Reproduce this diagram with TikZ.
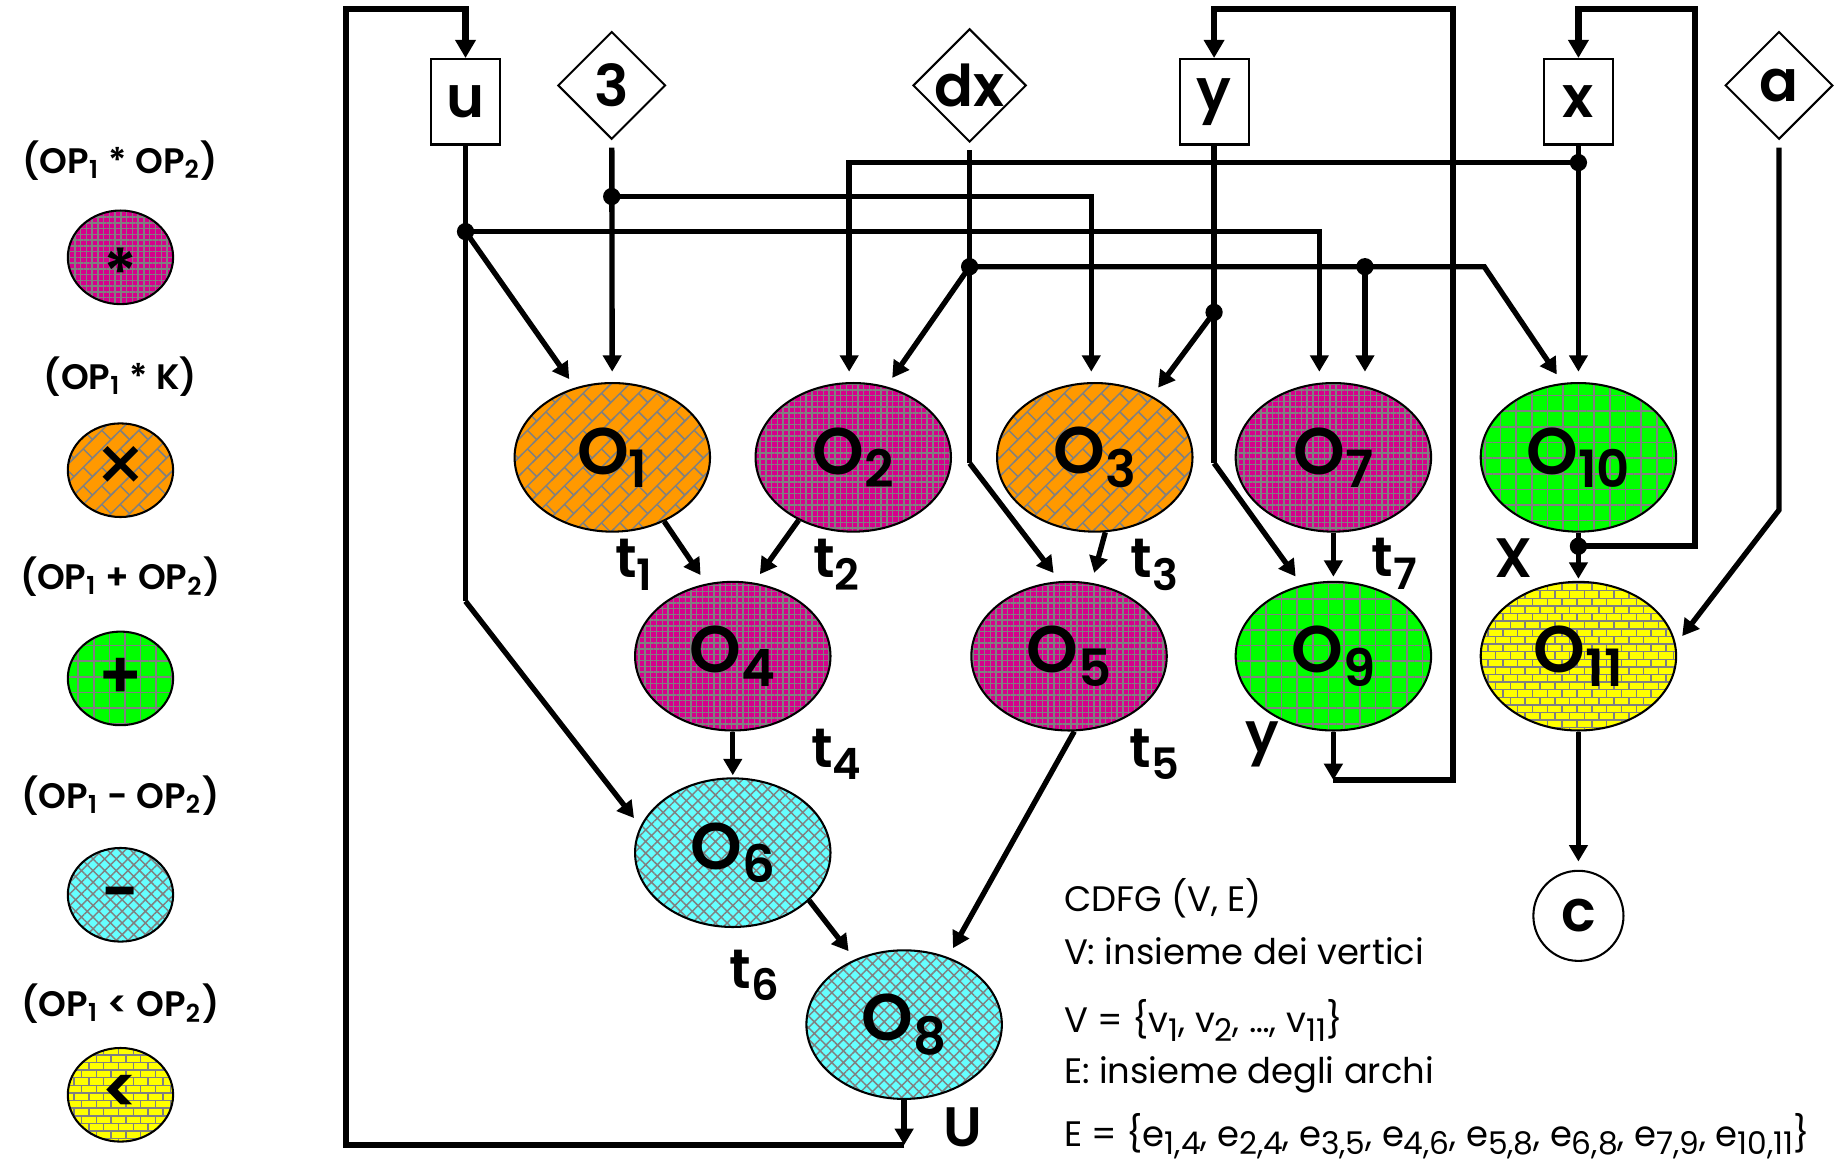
\documentclass[tikz,border=0pt]{standalone}
\usepackage{fontspec}
\setmainfont{Poppins}[BoldFont={Poppins SemiBold}]
\usetikzlibrary{shapes.geometric, positioning, calc, arrows.meta, patterns, patterns.meta}

\definecolor{rosso}{RGB}{214,0,140}
\definecolor{arancio}{RGB}{255,153,0}
\definecolor{verde}{RGB}{0,255,0}
\definecolor{ciano}{RGB}{102,255,255}
\definecolor{giallo}{RGB}{255,255,0}
\definecolor{trama}{RGB}{128,128,128}

%trama a mattoni orizzontali
\pgfdeclarepatternformonly{mattoni}{\pgfqpoint{-1pt}{-1pt}}{\pgfqpoint{4.6pt}{4.7pt}}{\pgfqpoint{3.6pt}{3.7pt}}{%
  \pgfsetlinewidth{0.35pt}%
  \pgfpathmoveto{\pgfqpoint{-1pt}{0pt}}\pgfpathlineto{\pgfqpoint{4.6pt}{0pt}}%
  \pgfpathmoveto{\pgfqpoint{-1pt}{1.85pt}}\pgfpathlineto{\pgfqpoint{4.6pt}{1.85pt}}%
  \pgfpathmoveto{\pgfqpoint{0pt}{0pt}}\pgfpathlineto{\pgfqpoint{0pt}{1.85pt}}%
  \pgfpathmoveto{\pgfqpoint{1.8pt}{1.85pt}}\pgfpathlineto{\pgfqpoint{1.8pt}{3.7pt}}%
  \pgfusepath{stroke}}
%trama a mattoni diagonali
\pgfdeclarepatternformonly{mattonidiag}{\pgfqpoint{-1pt}{-1pt}}{\pgfqpoint{5.5pt}{5.5pt}}{\pgfqpoint{4.5pt}{4.5pt}}{%
  \pgfsetlinewidth{0.35pt}%
  \pgfpathmoveto{\pgfqpoint{-1pt}{-1pt}}\pgfpathlineto{\pgfqpoint{5.5pt}{5.5pt}}%
  \pgfpathmoveto{\pgfqpoint{2.25pt}{2.25pt}}\pgfpathlineto{\pgfqpoint{4.5pt}{0pt}}%
  \pgfusepath{stroke}}

\newcommand{\opnum}[1]{O\raisebox{-3.2pt}{\fontsize{12.5}{12.5}\selectfont #1}}
\newcommand{\tnum}[1]{t\raisebox{-3pt}{\fontsize{10.5}{10.5}\selectfont #1}}
\newcommand{\pedice}[1]{\raisebox{-2pt}{\fontsize{7.6}{7.6}\selectfont #1}}

\tikzset{
  op/.style={ellipse, draw, line width=0.5pt, minimum width=1.67cm, minimum height=1.27cm,
    inner sep=0pt, pattern color=trama, font=\bfseries\fontsize{16}{16}\selectfont},
  legop/.style={minimum width=0.9cm, minimum height=0.8cm},
  opmul/.style={preaction={fill=rosso}, pattern={Hatch[angle=0,distance=1.4pt,line width=0.35pt]}},
  opmulk/.style={preaction={fill=arancio}, pattern=mattonidiag},
  opadd/.style={preaction={fill=verde}, pattern={Hatch[angle=0,distance=3.8pt,line width=0.4pt]}},
  opsub/.style={preaction={fill=ciano}, pattern={Hatch[angle=45,distance=2pt,line width=0.35pt]}},
  oplt/.style={preaction={fill=giallo}, pattern=mattoni},
  reg/.style={rectangle, draw, line width=0.5pt, minimum width=0.59cm, minimum height=0.73cm,
    inner sep=0pt, font=\bfseries\fontsize{14}{14}\selectfont},
  cost/.style={diamond, draw, line width=0.5pt, minimum width=0.92cm, minimum height=0.92cm,
    inner sep=0pt, font=\bfseries\fontsize{14}{14}\selectfont},
  uscita/.style={circle, draw, line width=0.5pt, minimum size=0.77cm, inner sep=0pt,
    font=\bfseries\fontsize{14}{14}\selectfont},
  filo/.style={line width=1.3pt},
  freccia/.style={line width=1.3pt, -{Triangle[length=4pt,width=4.4pt]}, shorten >=2.5pt},
  anello/.style={line width=1.5pt, -{Triangle[length=4.4pt,width=4.8pt]}},
  etic/.style={inner sep=0pt, font=\bfseries\fontsize{13.5}{13.5}\selectfont},
  leg/.style={inner sep=0pt, font=\bfseries\fontsize{8.6}{9}\selectfont},
  simbolo/.style={inner sep=0pt, font=\bfseries\fontsize{16}{16}\selectfont},
  testo/.style={anchor=base west, inner sep=0pt, font=\fontsize{8.6}{10}\selectfont}
}

\begin{document}
\begin{tikzpicture}[x=0.01cm, y=-0.01cm]
\useasboundingbox (0,0) rectangle (1568,993);

%legenda
\node[leg] (tmul) at (103,137) {(OP\textsubscript{1} * OP\textsubscript{2})};
\node[op, legop, opmul] (lmul) at (103,220) {};
\node[simbolo, yshift=-3.5pt] (smul) at (lmul) {*};
\node[leg] (tmulk) at (103,322) {(OP\textsubscript{1} * K)};
\node[op, legop, opmulk] (lmulk) at (103,402) {};
\node[simbolo, font=\fontsize{20}{20}\selectfont] (smulk) at (lmulk) {×};
\node[leg] (tadd) at (103,493) {(OP\textsubscript{1} + OP\textsubscript{2})};
\node[op, legop, opadd] (ladd) at (103,580) {};
\node[simbolo] (sadd) at (ladd) {+};
\node[leg] (tsub) at (103,680) {(OP\textsubscript{1} - OP\textsubscript{2})};
\node[op, legop, opsub] (lsub) at (103,765) {};
\node[simbolo, yshift=-1.5pt] (ssub) at (lsub) {-};
\node[leg] (tlt) at (103,858) {(OP\textsubscript{1} < OP\textsubscript{2})};
\node[op, legop, oplt] (llt) at (103,936) {};
\node[simbolo] (slt) at (llt) {<};

%nodi di ingresso
\node[reg] (u) at (398,87) {u};
\node[cost] (tre) at (523,73) {3};
\node[cost] (dx) at (829,73) {dx};
\node[reg] (y) at (1038,87) {y};
\node[reg] (x) at (1349.5,87) {x};
\node[cost] (a) at (1521,73) {a};

%operazioni
\node[op, opmulk] (o1) at (523.5,391) {\opnum{1}};
\node[op, opmul] (o2) at (729.5,391) {\opnum{2}};
\node[op, opmulk] (o3) at (936,391) {\opnum{3}};
\node[op, opmul] (o7) at (1140,391) {\opnum{7}};
\node[op, opadd] (o10) at (1349.5,391) {\opnum{10}};
\node[op, opmul] (o4) at (626.5,561) {\opnum{4}};
\node[op, opmul] (o5) at (914,561) {\opnum{5}};
\node[op, opadd] (o9) at (1140,561) {\opnum{9}};
\node[op, oplt] (o11) at (1349.5,561) {\opnum{11}};
\node[op, opsub] (o6) at (626.5,729) {\opnum{6}};
\node[op, opsub] (o8) at (773,876) {\opnum{8}};
\node[uscita] (c) at (1349.5,783) {c};

%punti di diramazione e gomiti
\coordinate (ju) at (398,198);
\coordinate (j3) at (523,168);
\coordinate (jx) at (1349.5,139);
\coordinate (jdx) at (829,228);
\coordinate (jdx2) at (1167,228);
\coordinate (jy) at (1038,267);
\coordinate (jo10) at (1349.5,467);
\coordinate (gu) at (398,514);
\coordinate (gu7) at (1128,198);
\coordinate (g3) at (933,168);
\coordinate (gx) at (726,139);
\coordinate (gdx) at (829,396);
\coordinate (gdx2) at (1269,228);
\coordinate (gy) at (1038,396);
\coordinate (ga) at (1521,436);
\coordinate (fu) at (773,979);
\coordinate (fu2) at (296,8);
\coordinate (fy) at (1140,667);
\coordinate (fy2) at (1242,8);
\coordinate (fx2) at (1449,8);

%archi da u
\draw[filo] (u) -- (ju) -- (gu);
\draw[freccia] (gu) -- (o6.164);
\draw[freccia] (ju) -- (o1.118);
\draw[freccia] (ju) -- (gu7) -- (gu7 |- o7.north);
%archi da 3
\draw[freccia, shorten <=1.8pt] (tre) -- (o1);
\draw[freccia] (j3) -- (g3) -- (g3 |- o3.north);
%archi da x
\draw[freccia] (x) -- (o10);
\draw[freccia] (jx) -- (gx) -- (gx |- o2.north);
%archi da dx
\draw[filo, shorten <=1.8pt] (dx) -- (gdx);
\draw[freccia] (gdx) -- (o5.97);
\draw[freccia] (jdx) -- (o2.65);
\draw[freccia] (jdx) -- (gdx2) -- (o10.102);
\draw[freccia] (jdx2) -- (jdx2 |- o7.north);
%archi da y
\draw[filo] (y) -- (gy);
\draw[freccia] (jy) -- (o3.47);
\draw[freccia] (gy) -- (o9.114);
%arco da a
\draw[freccia, shorten <=1.8pt] (a) -- (ga) -- (o11.7);

%archi tra operazioni
\draw[freccia] (o1.-51) -- (o4.110);
\draw[freccia] (o2.-131) -- (o4.74);
\draw[freccia] (o3.-82) -- (o5.73);
\draw[freccia, shorten >=0.5pt] (o4) -- (o6);
\draw[freccia] (o5.-86) -- (o8.57);
\draw[freccia] (o6.-32) -- (o8.127);
\draw[freccia, shorten >=1pt] (o7) -- (o9);
\draw[filo] (o10) -- (jo10);
\draw[freccia, shorten >=0.5pt] (jo10) -- (o11);
\draw[freccia, shorten >=2pt] (o11) -- (c);

%retroazioni
\draw[freccia, shorten >=0pt] (o8) -- (fu);
\draw[anello] (fu) -| (fu2) -| (u.north);
\draw[freccia, shorten >=0pt] (o9) -- (fy);
\draw[anello] (fy) -| (fy2) -| (y.north);
\draw[anello] (jo10) -| (fx2) -| (x.north);

%punti
\foreach \p in {ju,j3,jx,jdx,jdx2,jy,jo10}
  \fill (\p) circle (2.1pt);

%etichette
\node[etic] (t1) at (542,483) {\tnum{1}};
\node[etic] (t2) at (715,483) {\tnum{2}};
\node[etic] (t3) at (987,483) {\tnum{3}};
\node[etic] (t4) at (715,645) {\tnum{4}};
\node[etic] (t5) at (987,645) {\tnum{5}};
\node[etic] (t6) at (645,834) {\tnum{6}};
\node[etic] (t7) at (1192,482) {\tnum{7}};
\node[etic] (ly) at (1079,636) {y};
\node[etic] (lx) at (1294,477) {X};
\node[etic] (lu) at (823,964) {U};

%descrizione del grafo
\node[testo] (d1) at (909,779.5) {CDFG (V, E)};
\node[testo] (d2) at (909,825) {V: insieme dei vertici};
\node[testo] (d3) at (909,883) {V = \{v\pedice{1}, v\pedice{2}, \dots, v\pedice{11}\}};
\node[testo] (d4) at (909,926) {E: insieme degli archi};
\node[testo] (d5) at (909,980) {E = \{e\pedice{1,4}, e\pedice{2,4}, e\pedice{3,5}, e\pedice{4,6}, e\pedice{5,8}, e\pedice{6,8}, e\pedice{7,9}, e\pedice{10,11}\}};
\end{tikzpicture}
\end{document}
